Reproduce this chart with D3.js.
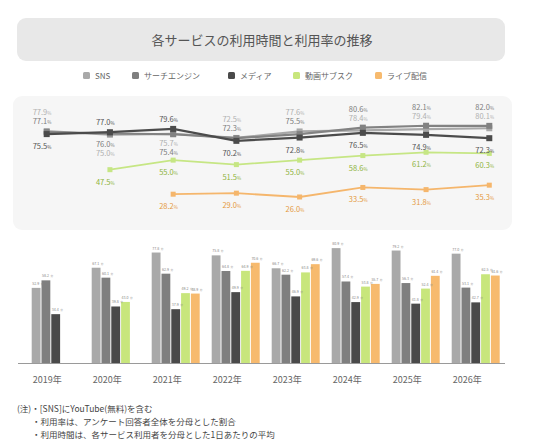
<!DOCTYPE html>
<html>
<head>
<meta charset="utf-8">
<script src="https://cdn.jsdelivr.net/npm/d3@7"></script>
<style>
  body { margin: 0; background: #fff; }
  svg { display: block; font-family: "Noto Sans CJK JP", "Noto Sans", sans-serif; }
</style>
</head>
<body>
<div id="viz"></div>
<script>
const years = ["2019", "2020", "2021", "2022", "2023", "2024", "2025", "2026"];
const seriesNames = ["SNS", "サーチエンジン", "メディア", "動画サブスク", "ライブ配信"];

// 利用率 (%)
const rateSNS    = [77.9, 75.0, 75.7, 72.5, 77.6, 78.4, 79.4, 80.1];
const rateSearch = [77.1, 76.0, 75.4, 72.3, 75.5, 80.6, 82.1, 82.0];
const rateMedia  = [75.5, 77.0, 79.6, 70.2, 72.8, 76.5, 74.9, 72.3];
const rateVideo  = [null, 47.5, 55.0, 51.5, 55.0, 58.6, 61.2, 60.3];
const rateLive   = [null, null, 28.2, 29.0, 26.0, 33.5, 31.8, 35.3];

// 利用時間 (分)
const timeSNS    = [52.9, 67.1, 77.8, 75.8, 66.7, 80.9, 79.2, 77.0];
const timeSearch = [58.2, 60.1, 62.9, 64.8, 62.2, 57.4, 56.3, 53.1];
const timeMedia  = [34.4, 39.8, 37.9, 49.9, 46.9, 42.9, 41.8, 42.7];
const timeVideo  = [null, 43.0, 49.2, 64.9, 63.8, 53.8, 52.4, 62.5];
const timeLive   = [null, null, 48.9, 70.6, 69.6, 55.7, 61.4, 61.6];

const notes = [
  "(注)・[SNS]にYouTube(無料)を含む",
  "・利用率は、アンケート回答者全体を分母とした割合",
  "・利用時間は、各サービス利用者を分母とした1日あたりの平均"
];

const lineColors  = ["#a8a8a8", "#828282", "#4b4b4b", "#c6e684", "#f5b66c"];
const labelColors = ["#b0b0b0", "#7d7d7d", "#555555", "#8fb43c", "#e59a3e"];
const barColors   = ["#a9a9a9", "#7f7f7f", "#4a4a4a", "#c8e67c", "#f7ba6e"];

const rates = [rateSNS, rateSearch, rateMedia, rateVideo, rateLive];
const times = [timeSNS, timeSearch, timeMedia, timeVideo, timeLive];

const W = 536, H = 447;
const svg = d3.select("#viz").append("svg").attr("width", W).attr("height", H);

// title
svg.append("rect").attr("x", 17).attr("y", 18).attr("width", 488).attr("height", 43)
  .attr("rx", 9).attr("fill", "#e8e8e8");
svg.append("text").attr("x", 262).attr("y", 45).attr("text-anchor", "middle")
  .attr("font-size", 13).attr("fill", "#555")
  .text("各サービスの利用時間と利用率の推移");

// legend
const legendX = [83, 132, 228, 293, 375];
const legend = svg.append("g").selectAll("g").data(seriesNames).join("g")
  .attr("transform", (d, i) => `translate(${legendX[i]},72)`);
legend.append("rect").attr("width", 7).attr("height", 7).attr("rx", 1.5)
  .attr("fill", (d, i) => barColors[i]);
legend.append("text").attr("x", 12).attr("y", 6.5).attr("font-size", 8)
  .attr("fill", "#666").text(d => d);

// line panel
svg.append("rect").attr("x", 13).attr("y", 96).attr("width", 499).attr("height", 134)
  .attr("rx", 9).attr("fill", "#f6f6f6");

const xl = d3.scalePoint().domain(years).range([46.7, 489.3]);
const yl = d3.scaleLinear().domain([0, 100]).range([230, 103]);

const lineGen = d3.line()
  .defined(d => d.v != null)
  .x(d => xl(d.year))
  .y(d => yl(d.v));

function pct(sel, v, size) {
  sel.append("tspan").text(v.toFixed(1));
  sel.append("tspan").attr("font-size", size * 0.6).text("%");
}

const lineG = svg.append("g");
rates.forEach((arr, si) => {
  const pts = years.map((y, i) => ({ year: y, v: arr[i] }));
  lineG.append("path").datum(pts)
    .attr("fill", "none").attr("stroke", lineColors[si]).attr("stroke-width", si < 3 ? 2.2 : 1.8)
    .attr("d", lineGen);
  const s = si < 3 ? 6 : 5;
  lineG.selectAll(null).data(pts.filter(d => d.v != null)).join("rect")
    .attr("x", d => xl(d.year) - s / 2).attr("y", d => yl(d.v) - s / 2)
    .attr("width", s).attr("height", s)
    .attr("fill", lineColors[si]);
});

// labels for lines: media on its own side, SNS / search grouped on the other
const fs = 7.5;
const labG = svg.append("g").attr("font-size", fs);
years.forEach((y, i) => {
  const x = xl(y) - 14;
  const media = rateMedia[i];
  const pair = [[0, rateSNS[i]], [1, rateSearch[i]]].sort((a, b) => b[1] - a[1]);
  const mediaTop = media > pair[0][1];
  if (mediaTop) {
    labG.append("text").attr("x", x).attr("y", yl(media) - 7).attr("fill", labelColors[2])
      .call(pct, media, fs);
    const low = yl(Math.min(rateSNS[i], rateSearch[i]));
    pair.forEach(([si, v], k) => {
      labG.append("text").attr("x", x).attr("y", low + 12 + k * 9).attr("fill", labelColors[si])
        .call(pct, v, fs);
    });
  } else {
    const top = yl(pair[0][1]);
    pair.forEach(([si, v], k) => {
      labG.append("text").attr("x", x).attr("y", top - 16 + k * 9).attr("fill", labelColors[si])
        .call(pct, v, fs);
    });
    labG.append("text").attr("x", x).attr("y", yl(media) + 15).attr("fill", labelColors[2])
      .call(pct, media, fs);
  }
  [3, 4].forEach(si => {
    const v = rates[si][i];
    if (v == null) return;
    labG.append("text").attr("x", x).attr("y", yl(v) + 15).attr("fill", labelColors[si])
      .call(pct, v, fs);
  });
});

// bar chart
const xb = d3.scaleBand().domain(years).range([25.7, 505.7]).paddingInner(0.2).paddingOuter(0.1);
const xs = d3.scaleBand().domain(d3.range(5)).range([0, xb.bandwidth()]).paddingInner(0.1);
const yb = d3.scaleLinear().domain([0, 100]).range([363, 221]);

const barData = [];
years.forEach((y, i) => times.forEach((arr, si) => {
  if (arr[i] != null) barData.push({ year: y, si, v: arr[i] });
}));

const barG = svg.append("g");
barG.selectAll("rect").data(barData).join("rect")
  .attr("x", d => xb(d.year) + xs(d.si))
  .attr("y", d => yb(d.v))
  .attr("width", xs.bandwidth())
  .attr("height", d => yb(0) - yb(d.v))
  .attr("fill", d => barColors[d.si]);

const bl = barG.selectAll("text").data(barData).join("text")
  .attr("x", d => xb(d.year) + xs(d.si) + 0.5)
  .attr("y", d => yb(d.v) - 3)
  .attr("font-size", 3.6).attr("fill", "#888");
bl.append("tspan").text(d => d.v.toFixed(1));
bl.append("tspan").attr("dx", 1.5).attr("font-size", 2.8).text("分");

const xAxis = svg.append("g").attr("transform", `translate(0,${yb(0)})`)
  .call(d3.axisBottom(xb).tickSize(0).tickFormat(d => d + "年"));
xAxis.select(".domain").attr("stroke", "#9a9a9a").attr("d", "M18,0.5H505");
xAxis.selectAll(".tick text")
  .attr("text-anchor", "start")
  .attr("x", -xb.bandwidth() / 2 + 1)
  .attr("dy", 0).attr("y", 20)
  .attr("font-size", 9).attr("fill", "#666")
  .attr("font-family", "Noto Sans CJK JP");

// notes
svg.append("g").selectAll("text").data(notes).join("text")
  .attr("x", (d, i) => i === 0 ? 17 : 32)
  .attr("y", (d, i) => 412 + i * 13)
  .attr("font-size", 8.5).attr("fill", "#444")
  .text(d => d);
</script>
</body>
</html>
